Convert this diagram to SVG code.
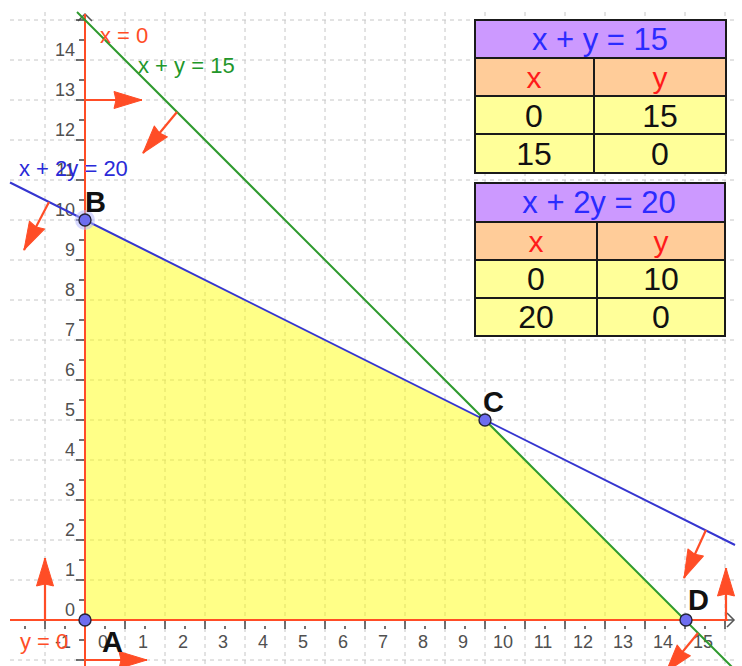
<svg xmlns="http://www.w3.org/2000/svg" width="742" height="666" viewBox="0 0 742 666">
<defs>
<style>
.grid{stroke:#c6c6c6;stroke-width:1;stroke-dasharray:4 4;fill:none}
.axis{stroke:#555;stroke-width:1.5;fill:none}
.tick{stroke:#444;stroke-width:1.5;fill:none}
.axlab{font-family:"Liberation Sans",Arial,sans-serif;font-size:18px;fill:#505050}
.red{stroke:#ff4d26;stroke-width:2;fill:none}
.vec{stroke:#ff4d26;stroke-width:2.2;fill:none;marker-end:url(#ah)}
.pt{fill:#6d6df0;stroke:#23233a;stroke-width:1.4}
.plab{font-family:"Liberation Sans",Arial,sans-serif;font-size:29px;font-weight:bold;fill:#111}
.llab{font-family:"Liberation Sans",Arial,sans-serif;font-size:22px}
.bord{stroke:#1a1a1a;stroke-width:2;fill:none}
.th{font-family:"Liberation Sans",Arial,sans-serif;font-size:31px;fill:#2b2bff;text-anchor:middle}
.tx{font-family:"Liberation Sans",Arial,sans-serif;font-size:30px;fill:#ff1a1a;text-anchor:middle}
.tn{font-family:"Liberation Sans",Arial,sans-serif;font-size:32px;fill:#111;text-anchor:middle}
</style>
<marker id="ah" viewBox="-30 -10 31 20" refX="0" refY="0" markerWidth="31" markerHeight="20" markerUnits="userSpaceOnUse" orient="auto">
<path d="M0,0 L-28,-8.5 L-26,0 L-28,8.5 Z" fill="#ff4d26" stroke="#ff4d26" stroke-width="1" stroke-linejoin="round"/>
</marker>
</defs>
<rect width="742" height="666" fill="#ffffff"/>
<g id="grid">
<path class="grid" d="M45 12V666M125 12V666M165 12V666M205 12V666M245 12V666M285 12V666M325 12V666M365 12V666M405 12V666M445 12V666M485 12V666M525 12V666M565 12V666M605 12V666M645 12V666M685 12V666M725 12V666"/>
<path class="grid" d="M10 20H735M10 60H735M10 100H735M10 140H735M10 180H735M10 220H735M10 260H735M10 300H735M10 340H735M10 380H735M10 420H735M10 460H735M10 500H735M10 540H735M10 580H735M10 660H735"/>
</g>
<g id="feasible-region">
<polygon points="85,620 85,220 485,420 685,620" fill="#ffff00" fill-opacity="0.47"/>
</g>
<g id="axes">
<path class="axis" d="M85 14V666M10 620H733"/>
<path class="axis" d="M78 21L85 14L92 21M727 613L734 620L727 627"/>
<path class="tick" d="M45 621V629M125 621V629M165 621V629M205 621V629M245 621V629M285 621V629M325 621V629M365 621V629M405 621V629M445 621V629M485 621V629M525 621V629M565 621V629M605 621V629M645 621V629M685 621V629M725 621V629"/>
<path class="tick" d="M25 626V629M65 626V629M105 626V629M145 626V629M185 626V629M225 626V629M265 626V629M305 626V629M345 626V629M385 626V629M425 626V629M465 626V629M505 626V629M545 626V629M585 626V629M625 626V629M665 626V629M705 626V629"/>
<path class="tick" d="M76 660H84M76 580H84M76 540H84M76 500H84M76 460H84M76 420H84M76 380H84M76 340H84M76 300H84M76 260H84M76 220H84M76 180H84M76 140H84M76 100H84M76 60H84M76 20H84"/>
<path class="tick" d="M79 640H84M79 600H84M79 560H84M79 520H84M79 480H84M79 440H84M79 400H84M79 360H84M79 320H84M79 280H84M79 240H84M79 200H84M79 160H84M79 120H84M79 80H84M79 40H84"/>
<g class="axlab" text-anchor="end">
<text x="75" y="615.5">0</text><text x="75" y="575.5">1</text><text x="75" y="535.5">2</text><text x="75" y="495.5">3</text><text x="75" y="455.5">4</text><text x="75" y="415.5">5</text><text x="75" y="375.5">6</text><text x="75" y="335.5">7</text><text x="75" y="295.5">8</text><text x="75" y="255.5">9</text><text x="75" y="215.5">10</text><text x="75" y="175.5">11</text><text x="75" y="135.5">12</text><text x="75" y="95.5">13</text><text x="75" y="55.5">14</text>
</g>
<g class="axlab" text-anchor="middle">
<text x="63" y="648">-1</text><text x="103" y="648">0</text><text x="143" y="648">1</text><text x="183" y="648">2</text><text x="223" y="648">3</text><text x="263" y="648">4</text><text x="303" y="648">5</text><text x="343" y="648">6</text><text x="383" y="648">7</text><text x="423" y="648">8</text><text x="463" y="648">9</text><text x="503" y="648">10</text><text x="543" y="648">11</text><text x="583" y="648">12</text><text x="623" y="648">13</text><text x="663" y="648">14</text><text x="703" y="648">15</text>
</g>
</g>
<g id="connectors">
<path id="line-x0" class="red" d="M85 14V666"/>
<path id="line-y0" class="red" d="M10 620H728"/>
<path id="line-xy15" d="M77 12L745 680" stroke="#2e9a2e" stroke-width="2" fill="none"/>
<path id="line-x2y20" d="M10 182.5L735 545" stroke="#3535d0" stroke-width="2" fill="none"/>
<path class="vec" d="M85 100H142"/>
<path class="vec" d="M177 112L143 153"/>
<path class="vec" d="M49 202L24 250"/>
<path class="vec" d="M706 530L684 578"/>
<path class="vec" d="M698 633L666 672"/>
<path class="vec" d="M45 620V558"/>
<path class="vec" d="M85 660H147"/>
<path class="vec" d="M726 620V568"/>
</g>
<g id="line-labels" class="llab">
<text x="100" y="43" fill="#ff4d26">x = 0</text>
<text x="138" y="73" fill="#22962a">x + y = 15</text>
<text x="19" y="176" fill="#2a2ad8">x + 2y = 20</text>
<text x="20" y="649" fill="#ff4d26">y = 0</text>
</g>
<g id="point-A"><circle class="pt" cx="85" cy="620" r="6"/><text class="plab" x="102" y="652">A</text></g>
<g id="point-B"><circle cx="85" cy="220" r="10" fill="#b4b8ff" fill-opacity="0.55"/><circle class="pt" cx="85" cy="220" r="6"/><text class="plab" x="85" y="212">B</text></g>
<g id="point-C"><circle class="pt" cx="485" cy="420" r="6"/><text class="plab" x="483" y="412">C</text></g>
<g id="point-D"><circle class="pt" cx="686" cy="620" r="6"/><text class="plab" x="688" y="610">D</text></g>
<g id="table-xy15">
<rect x="475" y="20" width="251" height="38" fill="#cc99ff"/>
<rect x="475" y="58" width="251" height="38" fill="#ffcc99"/>
<rect x="475" y="96" width="251" height="77" fill="#ffff99"/>
<rect class="bord" x="475" y="20" width="251" height="153"/>
<path class="bord" d="M475 58H726M475 96H726M475 134H726M594 58V173"/>
<text class="th" x="600" y="50">x + y = 15</text>
<text class="tx" x="534" y="88">x</text><text class="tx" x="660" y="88">y</text>
<text class="tn" x="534" y="127">0</text><text class="tn" x="660" y="127">15</text>
<text class="tn" x="534" y="165">15</text><text class="tn" x="660" y="165">0</text>
</g>
<g id="table-x2y20">
<rect x="475" y="183" width="250" height="39" fill="#cc99ff"/>
<rect x="475" y="222" width="250" height="38" fill="#ffcc99"/>
<rect x="475" y="260" width="250" height="76" fill="#ffff99"/>
<rect class="bord" x="475" y="183" width="250" height="153"/>
<path class="bord" d="M475 222H725M475 260H725M475 298H725M597 222V336"/>
<text class="th" x="599" y="213">x + 2y = 20</text>
<text class="tx" x="536" y="252">x</text><text class="tx" x="661" y="252">y</text>
<text class="tn" x="536" y="290">0</text><text class="tn" x="661" y="290">10</text>
<text class="tn" x="536" y="328">20</text><text class="tn" x="661" y="328">0</text>
</g>
</svg>
